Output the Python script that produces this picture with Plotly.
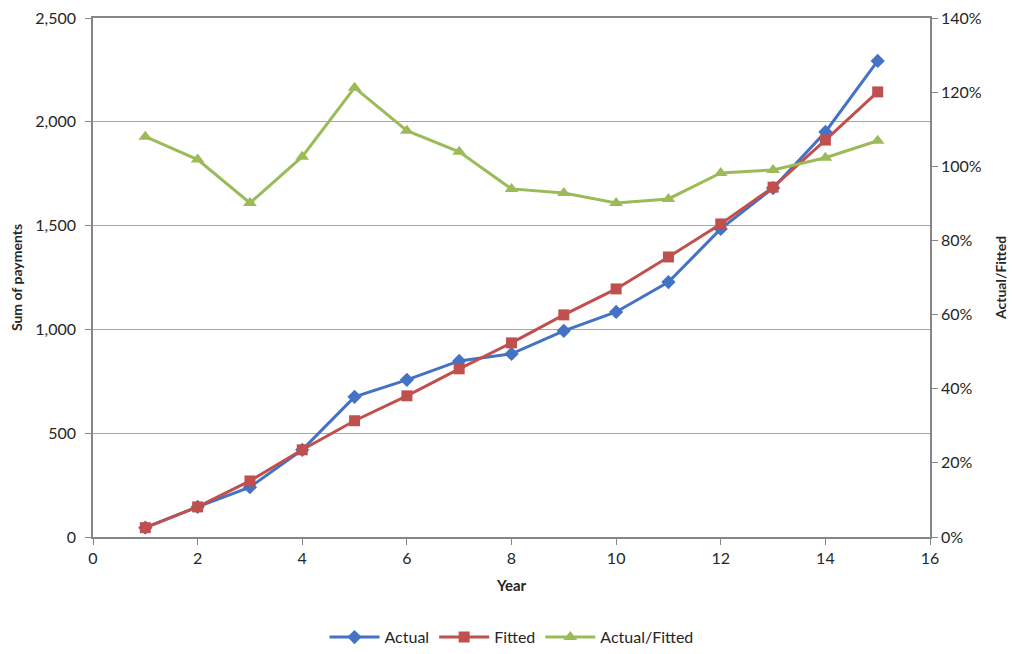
import plotly.graph_objects as go

years = list(range(1, 16))
actual = [45, 145, 240, 420, 675, 757, 848, 882, 993, 1084, 1228, 1484, 1681, 1951, 2293]
fitted = [45, 145, 270, 420, 560, 680, 810, 935, 1070, 1195, 1349, 1508, 1685, 1912, 2144]
ratio = [1.08, 1.018, 0.901, 1.026, 1.212, 1.096, 1.039, 0.939, 0.928, 0.901, 0.912, 0.982, 0.99, 1.023, 1.069]

font = "Lato, 'Open Sans', sans-serif"
axis_col = "#868686"

fig = go.Figure()
fig.add_trace(go.Scatter(x=years, y=actual, name="Actual", mode="lines+markers",
                         line=dict(color="#4472C4", width=3),
                         marker=dict(symbol="diamond", size=11, color="#4472C4")))
fig.add_trace(go.Scatter(x=years, y=fitted, name="Fitted", mode="lines+markers",
                         line=dict(color="#C0504D", width=3),
                         marker=dict(symbol="square", size=11, color="#C0504D")))
fig.add_trace(go.Scatter(x=years, y=ratio, name="Actual/Fitted", mode="lines+markers",
                         yaxis="y2",
                         line=dict(color="#9BBB59", width=3),
                         marker=dict(symbol="triangle-up", size=12, color="#9BBB59")))

# page has an 8px body margin, so margins are shifted to compensate
fig.update_layout(
    width=1016, height=654,
    margin=dict(l=85, r=94, t=10, b=125, autoexpand=False),
    paper_bgcolor="white", plot_bgcolor="white",
    font=dict(family=font, size=16, color="#262626"),
    showlegend=True,
    legend=dict(orientation="h", x=0.5, xanchor="center", y=-0.193, yanchor="middle",
                font=dict(size=16), itemwidth=50),
    xaxis=dict(range=[0, 16], dtick=2, showgrid=False, zeroline=False, automargin=False,
               showline=True, linecolor=axis_col, linewidth=1.5, mirror=True,
               ticks="outside", tickcolor=axis_col, ticklen=6,
               title=dict(text="<b>Year</b>", font=dict(size=15))),
    yaxis=dict(range=[0, 2500], dtick=500, tickformat=",", showgrid=True, automargin=False,
               gridcolor="#a6a6a6", gridwidth=1.2, zeroline=False,
               showline=True, linecolor=axis_col, linewidth=1.5,
               ticks="outside", tickcolor=axis_col, ticklen=6, ticklabelstandoff=6,
               ticklabeloverflow="allow",
               title=dict(text="<b>Sum of payments</b>", font=dict(size=14))),
    yaxis2=dict(range=[0, 1.4], dtick=0.2, tickformat=".0%", overlaying="y", side="right",
                showgrid=False, zeroline=False, automargin=False,
                showline=True, linecolor=axis_col, linewidth=1.5,
                ticks="outside", tickcolor=axis_col, ticklen=6,
                ticklabeloverflow="allow",
                title=dict(text="<b>Actual/Fitted</b>", font=dict(size=14))),
)

fig.write_html("out.html")
